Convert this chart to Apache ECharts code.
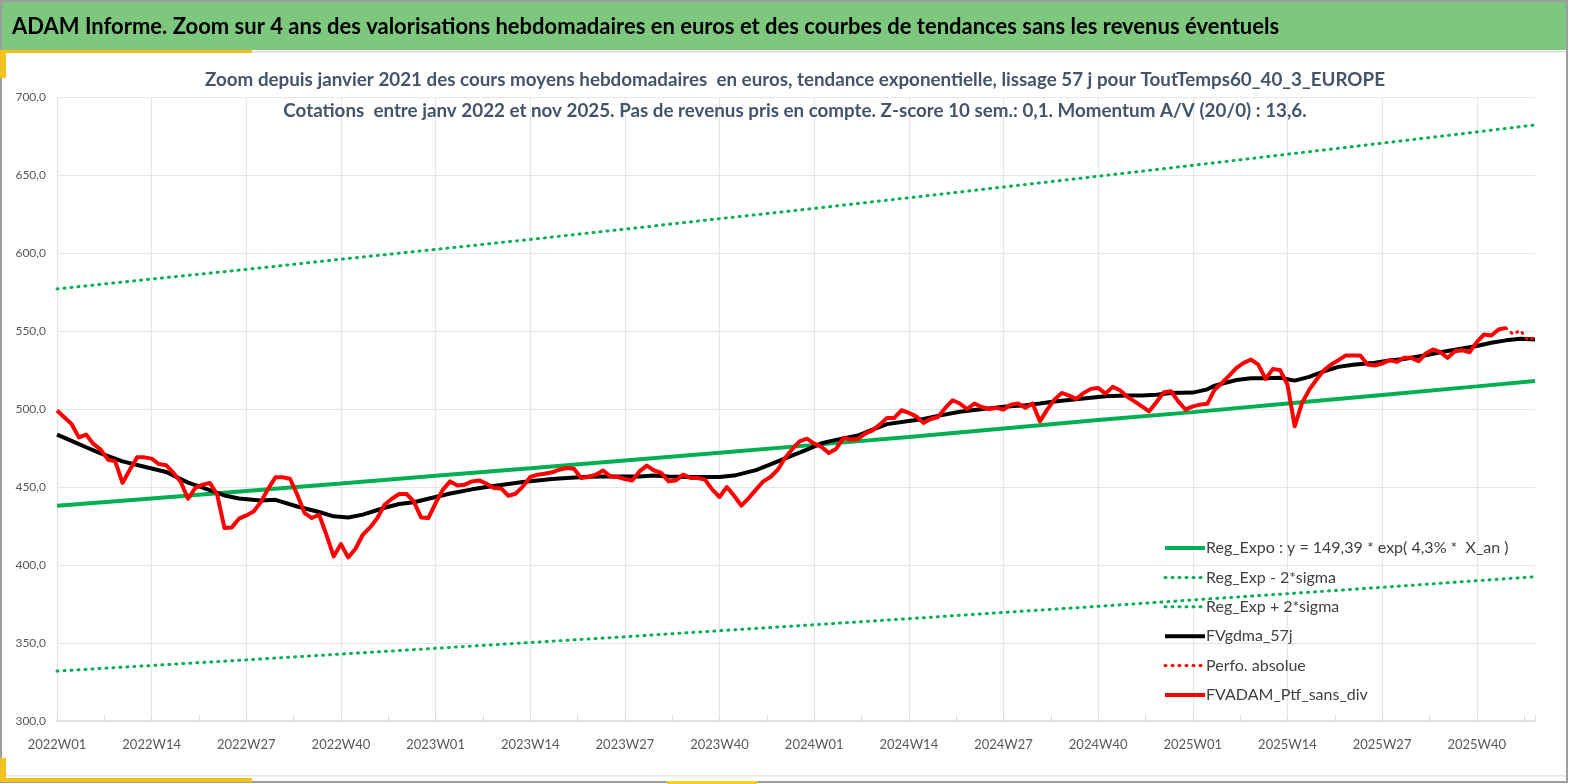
<!DOCTYPE html>
<html><head><meta charset="utf-8">
<script src="https://cdn.jsdelivr.net/npm/echarts@6/dist/echarts.min.js"></script>
<style>html,body{margin:0;padding:0;background:#fff;}#c{width:1569px;height:784px;}</style>
</head><body><div id="c"></div>
<script>
// ---- categories (ISO weeks) ----
const years = [2022, 2023, 2024, 2025];
const weeksPerYear = [52, 52, 52, 48];
const categories = [];
years.forEach((y, k) => { for (let w = 1; w <= weeksPerYear[k]; w++) categories.push(y + 'W' + String(w).padStart(2, '0')); });

// ---- y ticks ----
const yMin = 300, yMax = 700, yStep = 50;

// ---- FVADAM_Ptf_sans_div (weekly, 2022W01 .. 2025W44) ----
const ptfSansDiv = [
 499, 494.7, 490.4, 481.8, 483.6, 477.6, 474, 467.5, 466.4, 452.6,
 461.1, 469, 469, 468.2, 464.7, 463.9, 459, 453.2, 442.5, 449.4,
 451.5, 452.6, 445.1, 423.7, 424.1, 429.7, 431.8, 434.3, 440.4, 448.9,
 456.2, 456.2, 455.3, 445.1, 433.3, 430.1, 432.2, 419.4, 405.5, 413.4,
 404.8, 410.4, 419.4, 424.1, 430.1, 438.6, 442.5, 445.5, 445.5, 440.8,
 430.5, 430.1, 439.7, 448.3, 453.6, 451, 451.5, 453.6, 454.2, 452.1,
 449.4, 449.1, 444.4, 445.7, 450.4, 456.4, 457.9, 458.5, 459.4, 461.1,
 462.2, 461.7, 455.8, 456.4, 457.9, 460.6, 456.8, 456.4, 455.1, 454.2,
 460, 463.7, 460.6, 459, 453.6, 454.2, 457.9, 455.8, 455.8, 454.7,
 448.3, 443.6, 450, 444.4, 438, 442.9, 448.3, 453.6, 456.4, 461.1,
 468.6, 474.4, 479.3, 481, 477.8, 475.7, 471.8, 474.4, 481.4, 480.4,
 480.8, 484.2, 486.3, 490, 494.3, 494.3, 499.2, 497.5, 495.3, 491.1,
 493.6, 494.9, 500.7, 505.6, 503.5, 500, 503.5, 501.3, 500, 500.7,
 499.6, 502.8, 503.5, 500.7, 503.5, 492.1, 499.6, 506, 510.3, 508.6,
 506.5, 510.3, 512.9, 513.5, 509.9, 514.2, 512, 507.8, 504.9, 501.7,
 498.5, 504.3, 510.7, 511.4, 504.9, 499.6, 501.7, 502.8, 503.3, 512.4,
 516.7, 521.4, 526.4, 529.6, 531.7, 528.5, 519.3, 525.7, 524.8, 515.7,
 488.9, 503.9, 512.4, 518.9, 524.8, 528.5, 531.3, 534.3, 534.3, 534.3,
 528.5, 527.9, 529.1, 531.3, 530.2, 532.8, 532.8, 530.6, 535.6, 538.2,
 536.4, 532.8, 537, 537.7, 536.4, 542.8, 547.8, 547.1, 551, 552
];

// ---- Perfo. absolue (tail beyond the weekly series), [week index, value] ----
const perfoAbsolue = [[199, 552], [200, 547.8], [201, 550.5], [202, 544], [203, 546]];

// ---- FVgdma_57j read points, [week index, value] ----
const gdma57 = [
 [0,483.6],[2,479.6],[4,475.5],[6,471.5],[9,466.4],[12,463],[15,459.6],[18,452.8],[20,449.6],
 [23,444.6],[25,442.6],[28,441.3],[30,441.8],[33,437.5],[36,434],[38,431.2],[40,430.5],[42,432.3],
 [45,436.7],[47,439.1],[49,440.2],[52,443.6],[54,445.8],[57,448.5],[59,450],[61,451.3],[64,453.2],
 [66,454.2],[68,455.1],[70,455.8],[73,456.5],[75,456.8],[80,456.8],[82,457.3],[84,456.8],[87,456.4],
 [91,456.4],[93,457.3],[96,460.8],[98,464.5],[100,468.4],[103,474],[105,478],[107,480.2],[110,483],
 [112,486.8],[114,490.3],[117,492.3],[119,493.6],[121,495.6],[124,498.2],[126,499.3],[128,500.4],
 [130,501.5],[133,502.4],[135,503.5],[137,504.8],[140,506.2],[142,507.2],[144,508.2],[147,508.6],
 [149,508.7],[151,509.2],[153,510.2],[156,510.5],[158,512.6],[159,515],[162,518.6],[164,519.7],
 [166,519.7],[168,520],[170,518.2],[172,520.6],[174,524.2],[176,527],[178,528.4],[181,529.7],
 [183,531.1],[185,532.1],[188,534.5],[190,536.4],[192,538],[195,540.4],[197,542.5],[199,544],
 [201,545],[203,544.5]
];

// ---- regression lines, read at every 13th week, [week index, value] ----
const regExpo = [[0,438],[13,442.7],[26,447.5],[39,452.3],[52,457.2],[65,462],[78,467],[91,472],
 [104,477],[117,482],[130,487.5],[143,493],[156,498],[169,503.5],[182,509],[195,514.5],[203,518]];
const regExpMinus = [[0,332],[13,335.6],[26,339.2],[39,342.9],[52,346.6],[65,350.3],[78,354],[91,357.9],
 [104,361.7],[117,365.6],[130,369.6],[143,373.5],[156,377.6],[169,381.6],[182,385.7],[195,389.9],[203,392.5]];
const regExpPlus = [[0,577],[13,583.3],[26,589.5],[39,596],[52,602.3],[65,608.7],[78,615.3],[91,622],
 [104,628.6],[117,635.4],[130,642.3],[143,649.2],[156,656.2],[169,663.3],[182,670.4],[195,677.6],[203,682.1]];

const FONT = 'Lato, "Open Sans", sans-serif';
const GREEN = '#00B050', RED = '#FF0000';
const dotted = [1, 6];

const chart = echarts.init(document.getElementById('c'), null, {renderer: 'canvas'});
chart.setOption({
  animation: false,
  backgroundColor: '#ffffff',
  graphic: [
    {type: 'rect', z: -10, shape: {x: 1, y: 1, width: 1566, height: 781}, style: {fill: '#fff', stroke: '#9E9E9E', lineWidth: 2}},
    {type: 'rect', z: -9, shape: {x: 2, y: 2, width: 1564, height: 48}, style: {fill: '#7DC87E'}},
    {type: 'rect', z: -9, shape: {x: 250, y: 51, width: 1316, height: 1.5}, style: {fill: '#DADADA'}},
    {type: 'rect', z: -9, shape: {x: 0, y: 50, width: 252, height: 3}, style: {fill: '#F5C21B'}},
    {type: 'rect', z: -9, shape: {x: 0, y: 50, width: 6, height: 28}, style: {fill: '#F5C21B'}},
    {type: 'rect', z: -9, shape: {x: 0, y: 775, width: 1566, height: 1.5}, style: {fill: '#E6E6E6'}},
    {type: 'rect', z: -9, shape: {x: 0, y: 758, width: 6, height: 24}, style: {fill: '#F5C21B'}},
    {type: 'rect', z: -9, shape: {x: 0, y: 778, width: 252, height: 4}, style: {fill: '#F5C21B'}},
    {type: 'rect', z: -9, shape: {x: 667, y: 781, width: 90, height: 3}, style: {fill: '#F5D21B'}},
    {type: 'text', z: 10, x: 12, y: 27, style: {text: 'ADAM Informe. Zoom sur 4 ans des valorisations hebdomadaires en euros et des courbes de tendances sans les revenus éventuels',
      fill: '#000', font: 'bold 22px ' + FONT, textVerticalAlign: 'middle'}},
    {type: 'text', z: 10, x: 795, y: 80, style: {text: 'Zoom depuis janvier 2021 des cours moyens hebdomadaires  en euros, tendance exponentielle, lissage 57 j pour ToutTemps60_40_3_EUROPE',
      fill: '#44546A', font: 'bold 18.8px ' + FONT, textAlign: 'center', textVerticalAlign: 'middle'}},
    {type: 'text', z: 10, x: 795, y: 111, style: {text: 'Cotations  entre janv 2022 et nov 2025. Pas de revenus pris en compte. Z-score 10 sem.: 0,1. Momentum A/V (20/0) : 13,6.',
      fill: '#44546A', font: 'bold 18.8px ' + FONT, textAlign: 'center', textVerticalAlign: 'middle'}}
  ],
  legend: {
    orient: 'vertical', left: 1158, top: 535, itemWidth: 40, itemHeight: 14, itemGap: 13.4,
    itemStyle: {opacity: 0},
    lineStyle: {width: 'inherit'},
    textStyle: {fontFamily: FONT, fontSize: 16, color: '#404040', padding: [0, 0, 0, -4]},
    data: ['Reg_Expo : y = 149,39 * exp( 4,3% *  X_an )', 'Reg_Exp - 2*sigma', 'Reg_Exp + 2*sigma', 'FVgdma_57j', 'Perfo. absolue', 'FVADAM_Ptf_sans_div']
  },
  grid: {left: 57, right: 34, top: 97, bottom: 63, containLabel: false},
  xAxis: [{
    type: 'category', data: categories, boundaryGap: false,
    axisLine: {lineStyle: {color: '#D9D9D9', width: 1.5}},
    axisTick: {show: false},
    axisLabel: {interval: 12, margin: 17, color: '#595959', fontFamily: FONT, fontSize: 13},
    splitLine: {show: true, interval: 12, lineStyle: {color: '#E3E6EB', width: 1.2}}
  }, {
    type: 'value', min: 0, max: 203, interval: 6.5, position: 'bottom',
    axisLine: {show: false}, axisLabel: {show: false}, splitLine: {show: false},
    axisTick: {show: true, inside: true, length: 6, lineStyle: {color: '#D9D9D9'}}
  }],
  yAxis: {
    type: 'value', min: yMin, max: yMax, interval: yStep,
    axisLine: {show: false}, axisTick: {show: false},
    axisLabel: {margin: 11, color: '#595959', fontFamily: FONT, fontSize: 12, formatter: v => v.toFixed(1).replace('.', ',')},
    splitLine: {lineStyle: {color: '#E3E6EB', width: 1.2}}
  },
  series: [
    {name: 'Reg_Expo : y = 149,39 * exp( 4,3% *  X_an )', type: 'line', data: regExpo, symbol: 'none', color: GREEN, lineStyle: {width: 4, color: GREEN}},
    {name: 'Reg_Exp - 2*sigma', type: 'line', data: regExpMinus, symbol: 'none', color: GREEN, lineStyle: {width: 3, color: GREEN, type: dotted, cap: 'round'}},
    {name: 'Reg_Exp + 2*sigma', type: 'line', data: regExpPlus, symbol: 'none', color: GREEN, lineStyle: {width: 3, color: GREEN, type: dotted, cap: 'round'}},
    {name: 'FVgdma_57j', type: 'line', data: gdma57, symbol: 'none', color: '#000', lineStyle: {width: 4, color: '#000'}},
    {name: 'Perfo. absolue', type: 'line', data: perfoAbsolue, symbol: 'none', color: RED, lineStyle: {width: 3, color: RED, type: dotted, cap: 'round'}},
    {name: 'FVADAM_Ptf_sans_div', type: 'line', data: ptfSansDiv, symbol: 'none', color: RED, lineStyle: {width: 4, color: RED, join: 'round'}}
  ]
});
</script></body></html>
